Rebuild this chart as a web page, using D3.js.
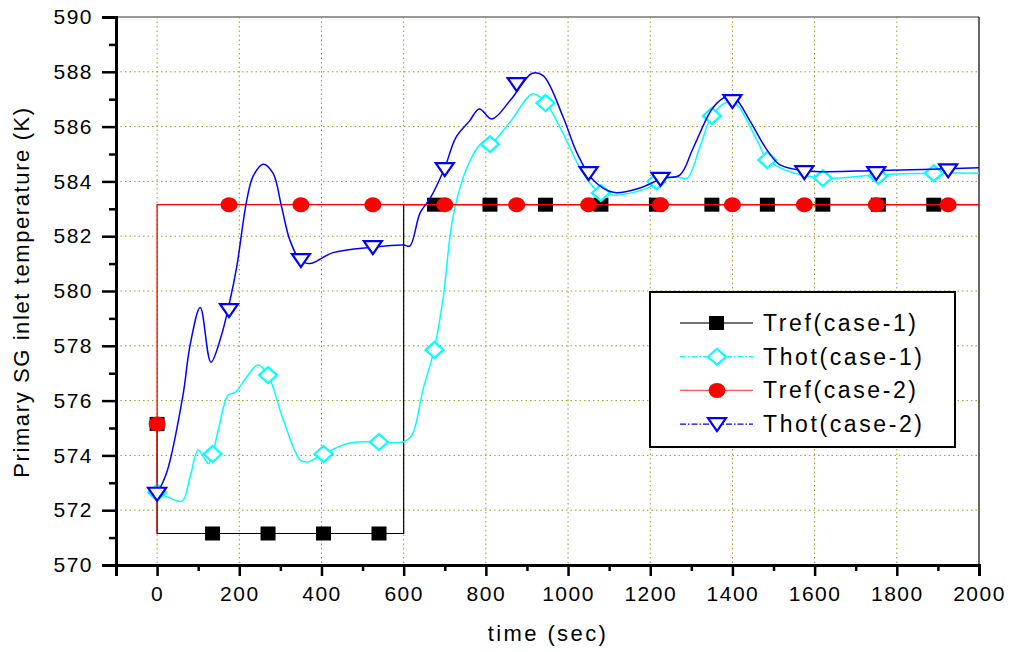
<!DOCTYPE html>
<html>
<head>
<meta charset="utf-8">
<script src="https://cdn.jsdelivr.net/npm/d3@7"></script>
<style>
  html, body { margin: 0; padding: 0; background: #fff; }
  svg { display: block; font-family: Arial, 'Liberation Sans', sans-serif; }
</style>
</head>
<body>
<svg id="chart" width="1013" height="652"></svg>
<script>
// --- Data ---
const xTicks = [0, 200, 400, 600, 800, 1000, 1200, 1400, 1600, 1800, 2000];
const yTicks = [570, 572, 574, 576, 578, 580, 582, 584, 586, 588, 590];

// Tref(case-1): step down at t=0, step up at t=600
const tref1Time = [0, 0, 600, 600, 2000];
const tref1Temp = [575.15, 571.15, 571.15, 583.15, 583.15];
const tref1MarkTime = [0, 135, 270, 405, 540, 675, 810, 945, 1080, 1215, 1350, 1485, 1620, 1755, 1890];
const tref1MarkTemp = [575.15, 571.15, 571.15, 571.15, 571.15, 583.15, 583.15, 583.15, 583.15, 583.15, 583.15, 583.15, 583.15, 583.15, 583.15];

// Tref(case-2): step up at t=0
const tref2Time = [0, 0, 0, 2000];
const tref2Temp = [575.15, 571.15, 583.15, 583.15];
const tref2MarkTime = [0, 175, 350, 525, 700, 875, 1050, 1225, 1400, 1575, 1750, 1925];
const tref2MarkTemp = [575.15, 583.15, 583.15, 583.15, 583.15, 583.15, 583.15, 583.15, 583.15, 583.15, 583.15, 583.15];

// Thot(case-1)
const thot1Time = [0, 30, 61, 80, 100, 115, 125, 135, 150, 173, 190, 215, 246, 270, 307, 348, 365, 404, 469, 540, 598, 620, 647, 674, 696, 720, 754, 791, 810, 859, 915, 946, 980, 1029, 1061, 1083, 1119, 1200, 1215, 1265, 1290, 1321, 1350, 1389, 1411, 1460, 1486, 1532, 1620, 1759, 1890, 2000];
const thot1Temp = [572.65, 572.45, 572.33, 573.2, 574.2, 573.9, 573.7, 574.05, 575.0, 576.2, 576.3, 576.8, 577.3, 576.93, 575.3, 573.83, 573.76, 574.05, 574.45, 574.49, 574.49, 574.74, 576.4, 577.85, 579.74, 582.7, 584.5, 585.4, 585.36, 586.17, 587.2, 586.86, 585.99, 584.49, 583.8, 583.58, 583.5, 583.8, 584.0, 584.16, 584.12, 585.26, 586.39, 586.9, 586.79, 585.5, 584.78, 584.4, 584.12, 584.25, 584.3, 584.3];
const thot1MarkTime = [0, 135, 270, 405, 540, 675, 810, 945, 1080, 1215, 1350, 1485, 1620, 1755, 1890];
const thot1MarkTemp = [572.65, 574.05, 576.93, 574.05, 574.49, 577.85, 585.36, 586.86, 583.58, 584.0, 586.39, 584.78, 584.12, 584.2, 584.3];

// Thot(case-2)
const thot2Time = [0, 24, 63, 80, 105, 131, 155, 178, 194, 218, 234, 258, 282, 303, 323, 348, 372, 428, 525, 600, 615, 640, 665, 700, 727, 760, 784, 815, 860, 913, 940, 988, 1022, 1061, 1110, 1175, 1231, 1272, 1304, 1353, 1387, 1406, 1443, 1484, 1516, 1582, 1759, 2000];
const thot2Temp = [572.6, 573.4, 576.2, 578.0, 579.4, 577.4, 578.3, 579.7, 580.9, 583.3, 584.2, 584.63, 584.3, 583.07, 581.86, 581.13, 581.0, 581.4, 581.6, 581.68, 581.64, 582.85, 583.4, 584.5, 585.6, 586.2, 586.64, 586.28, 586.97, 587.95, 587.85, 586.35, 585.03, 584.05, 583.6, 583.76, 584.12, 584.23, 585.2, 586.7, 587.1, 587.05, 586.2, 585.15, 584.6, 584.38, 584.4, 584.5];
const thot2MarkTime = [0, 175, 350, 525, 700, 875, 1050, 1225, 1400, 1575, 1750, 1925];
const thot2MarkTemp = [572.6, 579.3, 581.13, 581.6, 584.45, 587.55, 584.3, 584.09, 586.93, 584.34, 584.3, 584.4];

const legendLabels = ['Tref(case-1)', 'Thot(case-1)', 'Tref(case-2)', 'Thot(case-2)'];

// --- Layout ---
const LEFT = 116, RIGHT = 979, TOP = 17, BOTTOM = 565;
const GRID_COLOR = '#999922';

const svg = d3.select('#chart');

const x = d3.scaleLinear().domain([-100, 2000]).range([LEFT, RIGHT]);
const y = d3.scaleLinear().domain([570, 590]).range([BOTTOM, TOP]);

// Grid
const grid = svg.append('g').attr('class', 'grid');
grid.selectAll('.vgrid')
  .data(xTicks.filter(d => d < 2000))
  .join('line')
  .attr('x1', d => x(d)).attr('x2', d => x(d))
  .attr('y1', TOP).attr('y2', BOTTOM)
  .attr('stroke', GRID_COLOR)
  .attr('stroke-width', 1)
  .attr('stroke-dasharray', '1.5,3');
grid.selectAll('.hgrid')
  .data(yTicks.filter(d => d > 570 && d < 590))
  .join('line')
  .attr('x1', LEFT).attr('x2', RIGHT)
  .attr('y1', d => y(d)).attr('y2', d => y(d))
  .attr('stroke', GRID_COLOR)
  .attr('stroke-width', 1)
  .attr('stroke-dasharray', '1.5,3');

// Frame: top and right
svg.append('line')
  .attr('x1', LEFT).attr('x2', RIGHT).attr('y1', TOP).attr('y2', TOP)
  .attr('stroke', '#777').attr('stroke-width', 1.5);
svg.append('line')
  .attr('x1', RIGHT).attr('x2', RIGHT).attr('y1', TOP).attr('y2', BOTTOM)
  .attr('stroke', '#000').attr('stroke-width', 1.2);

// Axes
const xAxis = d3.axisBottom(x)
  .tickValues(xTicks)
  .tickSize(11)
  .tickPadding(10)
  .tickFormat(d3.format('d'));
const xMinor = d3.axisBottom(x)
  .tickValues(d3.range(-100, 2000, 200))
  .tickSize(6)
  .tickFormat('');

const yAxis = d3.axisLeft(y)
  .tickValues(yTicks)
  .tickSize(14)
  .tickPadding(9)
  .tickFormat(d3.format('d'));
const yMinor = d3.axisLeft(y)
  .tickValues(d3.range(571, 590, 2))
  .tickSize(7)
  .tickFormat('');

function styleAxis(g) {
  g.select('.domain').attr('stroke', '#000').attr('stroke-width', 3);
  g.selectAll('.tick line').attr('stroke', '#000').attr('stroke-width', 2.5);
  g.selectAll('.tick text')
    .attr('fill', '#000')
    .attr('font-size', '21px')
    .attr('letter-spacing', '1.5px')
    .attr('font-family', 'Arial, "Liberation Sans", sans-serif');
}

svg.append('g').attr('transform', `translate(0,${BOTTOM})`).call(xMinor).call(styleAxis);
svg.append('g').attr('transform', `translate(0,${BOTTOM})`).call(xAxis).call(styleAxis);
svg.append('g').attr('transform', `translate(${LEFT},0)`).call(yMinor).call(styleAxis);
svg.append('g').attr('transform', `translate(${LEFT},0)`).call(yAxis).call(styleAxis);

// Axis titles
svg.append('text')
  .attr('x', 548).attr('y', 641)
  .attr('text-anchor', 'middle')
  .attr('font-size', '22px')
  .attr('letter-spacing', '2.4px')
  .text('time (sec)');

svg.append('text')
  .attr('transform', 'translate(29,292) rotate(-90)')
  .attr('text-anchor', 'middle')
  .attr('font-size', '22px')
  .attr('letter-spacing', '1.6px')
  .text('Primary SG inlet temperature (K)');

// --- Series ---
const zip = (ts, vs) => ts.map((t, i) => [t, vs[i]]);

const stepLine = d3.line().x(d => x(d[0])).y(d => y(d[1]));
const smoothLine = d3.line().x(d => x(d[0])).y(d => y(d[1])).curve(d3.curveCatmullRom.alpha(0.5));

const plot = svg.append('g').attr('class', 'plot');

// Tref(case-1)
plot.append('path')
  .attr('d', stepLine(zip(tref1Time, tref1Temp)))
  .attr('fill', 'none').attr('stroke', '#000').attr('stroke-width', 1.2);
plot.selectAll('.sq')
  .data(zip(tref1MarkTime, tref1MarkTemp))
  .join('rect')
  .attr('x', d => x(d[0]) - 7.5).attr('y', d => y(d[1]) - 7)
  .attr('width', 15).attr('height', 14)
  .attr('fill', '#000');

// Thot(case-1)
plot.append('path')
  .attr('d', smoothLine(zip(thot1Time, thot1Temp)))
  .attr('fill', 'none').attr('stroke', '#00ffff').attr('stroke-width', 1.5);
plot.selectAll('.dia')
  .data(zip(thot1MarkTime, thot1MarkTemp))
  .join('path')
  .attr('d', d => `M${x(d[0])},${y(d[1]) - 8} l9,8 l-9,8 l-9,-8 Z`)
  .attr('fill', '#fff').attr('stroke', '#00ffff').attr('stroke-width', 2.2);

// Tref(case-2)
plot.append('path')
  .attr('d', stepLine(zip(tref2Time, tref2Temp)))
  .attr('fill', 'none').attr('stroke', '#ff0000').attr('stroke-width', 1.3);
plot.selectAll('.circ')
  .data(zip(tref2MarkTime, tref2MarkTemp))
  .join('ellipse')
  .attr('cx', d => x(d[0])).attr('cy', d => y(d[1]))
  .attr('rx', 8.5).attr('ry', 7.5)
  .attr('fill', '#ff0000');

// Thot(case-2)
plot.append('path')
  .attr('d', smoothLine(zip(thot2Time, thot2Temp)))
  .attr('fill', 'none').attr('stroke', '#0000ff').attr('stroke-width', 1.5);
plot.selectAll('.tri')
  .data(zip(thot2MarkTime, thot2MarkTemp))
  .join('path')
  .attr('d', d => `M${x(d[0]) - 9},${y(d[1]) - 6} h18 l-9,13 Z`)
  .attr('fill', '#fff').attr('stroke', '#0000ff').attr('stroke-width', 2.2);

// --- Legend ---
const legend = svg.append('g').attr('transform', 'translate(650,292)');
legend.append('rect')
  .attr('x', 0).attr('y', 0).attr('width', 305).attr('height', 155)
  .attr('fill', '#fff').attr('stroke', '#000').attr('stroke-width', 2);

const legendStyles = [
  { stroke: '#444', dash: null, marker: 'square' },
  { stroke: '#00ffff', dash: '6,2,1.5,2', marker: 'diamond' },
  { stroke: '#ff5555', dash: null, marker: 'circle' },
  { stroke: '#0000ff', dash: '6,2,1.5,2', marker: 'triangle' },
];

const rows = legend.selectAll('.legend-row')
  .data(legendLabels)
  .join('g')
  .attr('class', 'legend-row')
  .attr('transform', (d, i) => `translate(0, ${31 + i * 33.7})`);

rows.append('line')
  .attr('x1', 30).attr('x2', 103).attr('y1', 0).attr('y2', 0)
  .attr('stroke', (d, i) => legendStyles[i].stroke)
  .attr('stroke-width', 1.3)
  .attr('stroke-dasharray', (d, i) => legendStyles[i].dash);

rows.each(function(d, i) {
  const g = d3.select(this);
  const m = legendStyles[i].marker;
  if (m === 'square') {
    g.append('rect').attr('x', 59).attr('y', -7).attr('width', 15).attr('height', 14).attr('fill', '#000');
  } else if (m === 'diamond') {
    g.append('path').attr('d', 'M67,-8 l9,8 l-9,8 l-9,-8 Z')
      .attr('fill', '#fff').attr('stroke', '#00ffff').attr('stroke-width', 2.2);
  } else if (m === 'circle') {
    g.append('ellipse').attr('cx', 67).attr('cy', 0).attr('rx', 8.5).attr('ry', 7.5).attr('fill', '#ff0000');
  } else {
    g.append('path').attr('d', 'M58,-6 h18 l-9,13 Z')
      .attr('fill', '#fff').attr('stroke', '#0000ff').attr('stroke-width', 2.2);
  }
});

rows.append('text')
  .attr('x', 113).attr('y', 8)
  .attr('font-size', '23px')
  .attr('letter-spacing', '2.6px')
  .attr('fill', '#000')
  .text(d => d);
</script>
</body>
</html>
